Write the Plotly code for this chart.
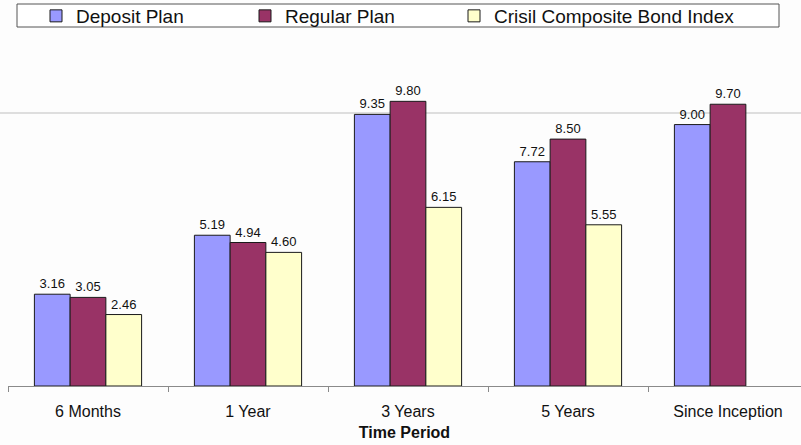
import plotly.graph_objects as go

categories = ["6 Months", "1 Year", "3 Years", "5 Years", "Since Inception"]
deposit_plan = [3.16, 5.19, 9.35, 7.72, 9.00]
regular_plan = [3.05, 4.94, 9.80, 8.50, 9.70]
crisil_index = [2.46, 4.60, 6.15, 5.55, None]
series_names = ["Deposit Plan", "Regular Plan", "Crisil Composite Bond Index"]
colors = ["#9999FF", "#993366", "#FFFFCC"]

FONT = "Liberation Sans, Arial, sans-serif"
W, H = 801, 445
ML, MR, MT, MB = 8, 0, 81, 59

legend_ids = ["legend", "legend2", "legend3"]
legend_x_px = [36, 245, 454]

fig = go.Figure()
for name, vals, col, lid in zip(series_names, [deposit_plan, regular_plan, crisil_index], colors, legend_ids):
    fig.add_trace(go.Bar(
        name=name, x=categories, y=vals,
        marker=dict(color=col, line=dict(color="#1a1a1a", width=1)),
        text=[("%.2f" % v) if v is not None else "" for v in vals],
        textposition="outside",
        textfont=dict(family=FONT, size=13, color="#111111"),
        cliponaxis=False,
        legend=lid,
    ))

def px2paper_x(px):
    return (px - ML) / (W - ML - MR)

def px2paper_y(py):
    return 1 - (py - MT) / (H - MT - MB)

def legend_cfg(xpx):
    return dict(
        orientation="h",
        xref="container", yref="container",
        x=xpx / W, xanchor="left",
        y=1 - 16 / H, yanchor="middle",
        font=dict(family=FONT, size=19, color="#111111"),
        bgcolor="rgba(0,0,0,0)", borderwidth=0,
        itemwidth=30,
    )

fig.update_layout(
    width=W, height=H,
    margin=dict(l=ML, r=MR, t=MT, b=MB, autoexpand=False),
    paper_bgcolor="#fdfdfd", plot_bgcolor="rgba(0,0,0,0)",
    barmode="group", bargap=0.33, bargroupgap=0,
    font=dict(family=FONT, color="#111111"),
    showlegend=True,
    legend=legend_cfg(legend_x_px[0]),
    legend2=legend_cfg(legend_x_px[1]),
    legend3=legend_cfg(legend_x_px[2]),
    xaxis=dict(
        range=[-0.5, -0.5 + (W - ML - MR) / 160.0],
        showline=True, linecolor="#8a8a8a", linewidth=1,
        ticks="outside", tickson="boundaries", ticklen=5, tickcolor="#8a8a8a",
        tickfont=dict(family=FONT, size=16, color="#111111"),
        ticklabelstandoff=11,
        showgrid=False, zeroline=False,
        title=dict(text="<b>Time Period</b>", font=dict(family=FONT, size=16, color="#111111"), standoff=7),
        fixedrange=True,
    ),
    yaxis=dict(range=[0, 10.5], visible=False, showgrid=False, fixedrange=True),
    shapes=[
        dict(type="line", xref="paper", yref="paper",
             x0=px2paper_x(0), x1=px2paper_x(801), y0=px2paper_y(113), y1=px2paper_y(113),
             line=dict(color="#dedede", width=2), layer="below"),
        dict(type="rect", xref="paper", yref="paper",
             x0=px2paper_x(17), x1=px2paper_x(779), y0=px2paper_y(4), y1=px2paper_y(27),
             line=dict(color="#555555", width=1), fillcolor="#ffffff", layer="below"),
    ],
)

fig.write_html(
    "out.html",
    config={"displayModeBar": False},
    post_script="document.body.style.margin='0';document.body.style.overflow='hidden';",
)
